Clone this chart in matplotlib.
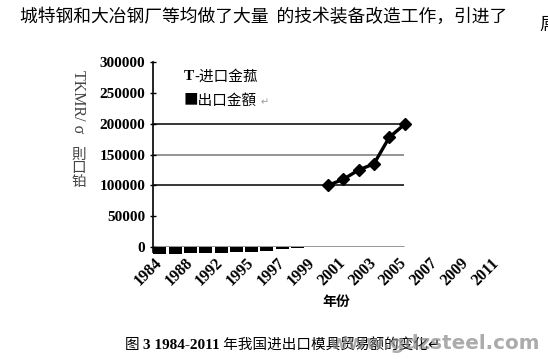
import matplotlib
matplotlib.use("Agg")
import matplotlib.pyplot as plt

# categories on the x axis (Excel-style category axis, every 2nd one labelled)
years = ["1984", "1986", "1988", "1990", "1992", "1993", "1995", "1996", "1997",
         "1998", "1999", "2000", "2001", "2002", "2003", "2004", "2005", "2006",
         "2007", "2008", "2009", "2010", "2011"]
label_years = years[::2]

# import amount (line), only 2000-2005 visible
import_years = ["2000", "2001", "2002", "2003", "2004", "2005"]
import_vals = [100000, 110000, 125000, 135000, 178000, 199000]

# export amount (black blocks under the zero line as printed)
export_years = ["1984", "1986", "1988", "1990", "1992", "1993", "1995", "1996", "1997", "1998"]
export_vals = [-11000, -11000, -10500, -10000, -9500, -8000, -7500, -6000, -2500, -2000]

grid_vals = [100000, 150000, 200000]
grid_cols = ["black", "#777777", "black"]
yticks = [0, 50000, 100000, 150000, 200000, 250000, 300000]

cjk = ["Noto Sans CJK SC", "DejaVu Sans"]
serif = ["Liberation Serif", "DejaVu Serif"]

fig = plt.figure(figsize=(5.48, 3.59), dpi=100)
ax = fig.add_axes([0.2792, 0.312, 0.6405, 0.515])

pos = {y: i for i, y in enumerate(years)}
right_end = pos["2005"] - 0.05

for v, c in zip(grid_vals, grid_cols):
    ax.hlines(v, -0.45, right_end, color=c, lw=1.1, zorder=1)
ax.hlines(0, -0.45, right_end, color="#777777", lw=1.8, zorder=1)

ax.bar([pos[y] for y in export_years], export_vals, width=0.85, color="black",
       zorder=2, clip_on=False)
ax.plot([pos[y] for y in import_years], import_vals, color="black", lw=2.4,
        marker="D", markersize=6, zorder=3)

ax.set_xlim(-0.45, 22.5)
ax.set_ylim(0, 300000)
ax.set_yticks(yticks)
ax.set_yticklabels([str(v) for v in yticks], family=serif, fontweight="bold", fontsize=11)
ax.set_xticks([pos[y] for y in label_years])
ax.set_xticklabels(label_years, rotation=45, ha="right", va="center",
                   rotation_mode="anchor", family=serif, fontweight="bold", fontsize=11.5)
ax.tick_params(axis="x", length=0, pad=10)
ax.tick_params(axis="y", direction="inout", length=5, width=1, pad=3)
for s in ["top", "right", "bottom"]:
    ax.spines[s].set_visible(False)
ax.spines["left"].set_bounds(-8000, 300000)
ax.spines["left"].set_linewidth(1.2)
ax.patch.set_alpha(0)

# legend as printed
ax.text(1.55, 277000, "T", family=serif, fontweight="bold", fontsize=11, va="center")
ax.text(2.25, 277000, "-进口金菰", family=cjk, fontsize=10.5, va="center")
ax.text(1.55, 237000, "■出口金額", family=cjk, fontsize=10.5, va="center")
ax.text(6.55, 235000, "↵", family=["DejaVu Sans"], fontsize=7, color="#999999", va="center")

# y label
fig.text(0.143, 0.805, "TKMR/ σ", rotation=-90, family=serif, fontsize=11.5,
         color="#444444", ha="center", va="top")
fig.text(0.143, 0.588, "則\n口\n铂", family=cjk, fontsize=10.5, color="#444444",
         ha="center", va="top", linespacing=0.95)

# x label
fig.text(0.613, 0.158, "年份", family=cjk, fontweight="bold", fontsize=10,
         ha="center", va="center")

# surrounding page text
fig.text(0.036, 0.952, "城特钢和大冶钢厂等均做了大量  的技术装备改造工作，引进了",
         family=cjk, fontsize=12.8, va="center", ha="left")
fig.text(0.985, 0.93, "屌", family=cjk, fontsize=12.8, va="center", ha="left")

t1 = fig.text(0.228, 0.027, "图 ", family=cjk, fontsize=10.5, va="baseline")
t2 = ax.annotate("3 1984-2011", xy=(1, 0), xycoords=t1, family=serif,
                 fontweight="bold", fontsize=11, va="bottom", annotation_clip=False)
ax.annotate(" 年我国进出口模具贸易额的变化↵", xy=(1, 0), xycoords=t2, family=cjk,
            fontsize=10.5, va="bottom", annotation_clip=False)
fig.text(0.6, 0.027, "www.gdzsteel.com", family=["DejaVu Sans"], fontweight="bold",
         fontsize=14.3, color="#888888", alpha=0.7, va="baseline")

fig.savefig("out.png", dpi=100)
